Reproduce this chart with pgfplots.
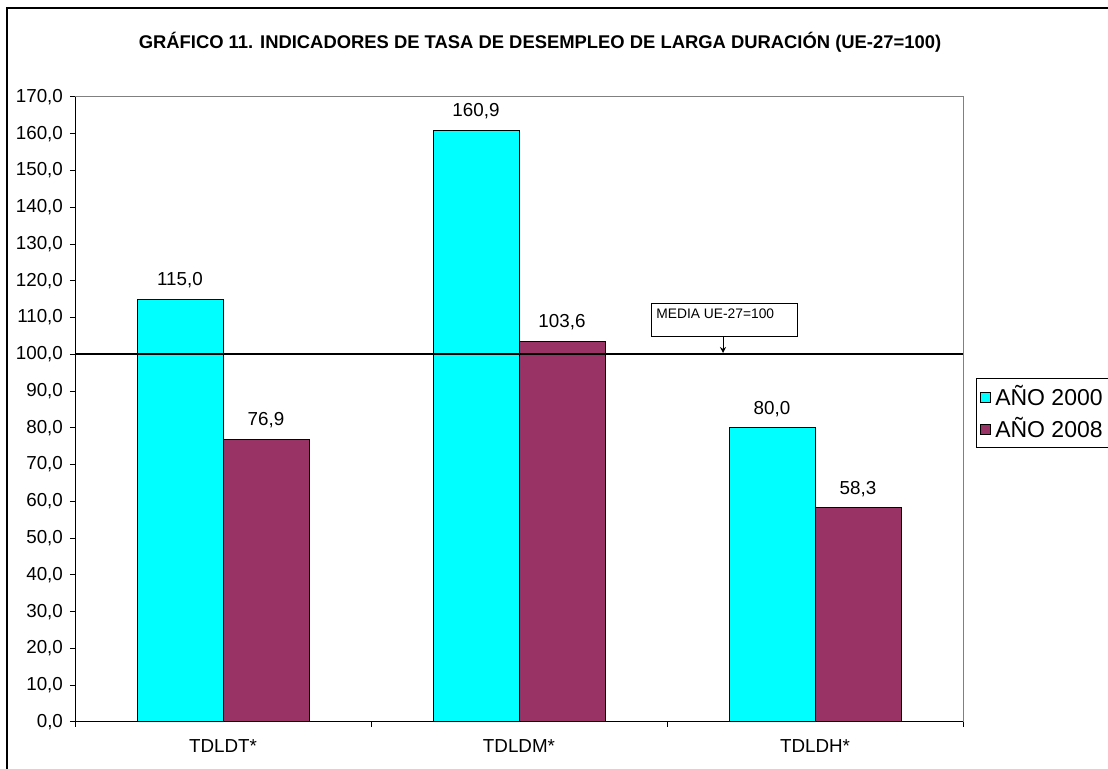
\documentclass[border=0pt]{standalone}
\usepackage{pgfplots}
\pgfplotsset{compat=1.18}
\usetikzlibrary{arrows.meta}
\usepackage{fontspec}
\setmainfont{Liberation Sans}
\definecolor{c1}{RGB}{0,255,255}
\definecolor{c2}{RGB}{153,51,102}
\begin{document}
\begin{tikzpicture}[x=0.5pt,y=0.5pt]
\useasboundingbox (0,0) rectangle (1108,769);
\clip (0,0) rectangle (1108,769);
\draw[black, line width=0.6pt] (7,-10) rectangle (1130,761);
\node[font=\bfseries\fontsize{9.2}{11}\selectfont] at (540,727) {GRÁFICO 11. INDICADORES DE TASA DE DESEMPLEO DE LARGA DURACIÓN (UE-27=100)};
\begin{axis}[at={(37.5pt,23.5pt)}, anchor=south west, scale only axis,
  width=444pt, height=312.5pt,
  xmin=0, xmax=3, ymin=0, ymax=170,
  ybar=0pt, bar width=43pt,
  xtick={0.5,1.5,2.5}, xticklabels={TDLDT*,TDLDM*,TDLDH*},
  major x tick style={draw=none},
  minor xtick={0,1,2,3},
  ytick={0,10,...,170},
  xtick pos=bottom, ytick pos=left,
  tick align=outside, major tick length=2.5pt, minor tick length=2.5pt,
  tick style={black, line width=0.5pt},
  axis line style={gray, line width=0.5pt},
  /pgf/number format/assume math mode=true,
  yticklabel style={/pgf/number format/.cd, fixed, fixed zerofill, precision=1, use comma},
  ticklabel style={font=\fontsize{9.4}{11}\selectfont},
  xticklabel style={yshift=-3pt},
  nodes near coords,
  every node near coord/.append style={font=\fontsize{9.4}{11}\selectfont, yshift=2pt, /pgf/number format/.cd, fixed, fixed zerofill, precision=1, use comma, assume math mode=true},
  nodes near coords align={vertical},
  legend style={at={(1.0146,0.5504)}, anchor=north west, draw=black, line width=0.5pt,
    font=\fontsize{11.5}{13}\selectfont, inner xsep=2pt, inner ysep=1.5pt, row sep=0.5pt,
    cells={anchor=west}},
  legend image code/.code={\draw[#1,draw=black,line width=0.4pt] (0pt,-2.5pt) rectangle (5pt,2.5pt);},
]
\addplot[fill=c1, draw=black, line width=0.5pt] coordinates {(0.5,115.0) (1.5,160.9) (2.5,80.0)};
\addplot[fill=c2, draw=black, line width=0.5pt] coordinates {(0.5,76.9) (1.5,103.6) (2.5,58.3)};
\legend{AÑO 2000, AÑO 2008}
\draw[black, line width=0.5pt] (rel axis cs:0,0) -- (rel axis cs:0,1);
\draw[black, line width=0.6pt] (rel axis cs:0,0) -- (rel axis cs:1,0);
\draw[black, line width=0.9pt] (axis cs:0,100) -- (axis cs:3,100);
\end{axis}
\draw[black, line width=0.5pt, fill=white] (651,465) rectangle (797,432);
\node[anchor=north west, inner sep=0pt, font=\fontsize{6.9}{8}\selectfont] at (656,461) {MEDIA UE-27=100};
\draw[black, line width=0.5pt, -{Stealth[length=3pt,width=3pt]}] (723,432) -- (723,416);
\end{tikzpicture}
\end{document}
